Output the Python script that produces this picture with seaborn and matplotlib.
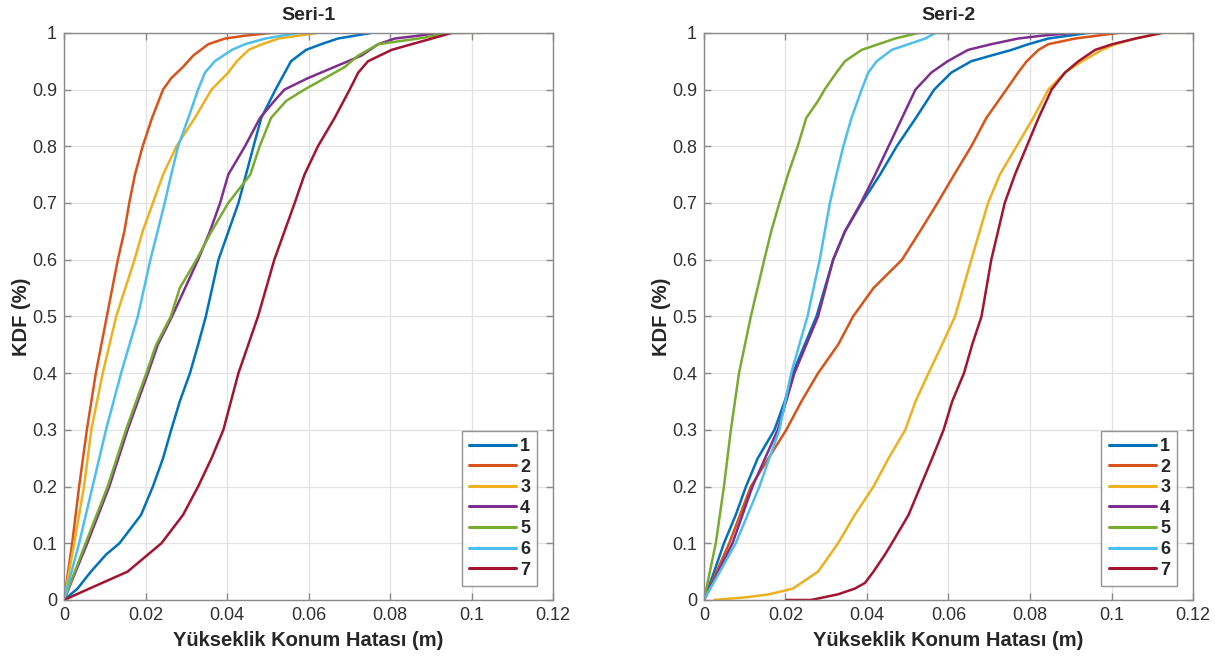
import matplotlib
matplotlib.use("Agg")
import matplotlib.pyplot as plt
import seaborn as sns
import pandas as pd
from matplotlib.ticker import FuncFormatter

# ---- data (x = error in m, read at CDF levels) ----
series_names = ["1", "2", "3", "4", "5", "6", "7"]
colors = ["#0072BD", "#D95319", "#EDB120", "#7E2F8E", "#77AC30", "#4DBEEE", "#A2142F"]

# Seri-1
s1_c1_x = [0, 0.0033, 0.0066, 0.0103, 0.0136, 0.0189, 0.0218, 0.0243, 0.0263, 0.0284, 0.0309, 0.0329, 0.0348, 0.0379, 0.0428, 0.0465, 0.0484, 0.0519, 0.0557, 0.0594, 0.0631, 0.0672, 0.0755]
s1_c1_y = [0, 0.02, 0.05, 0.08, 0.10, 0.15, 0.20, 0.25, 0.30, 0.35, 0.40, 0.45, 0.50, 0.60, 0.70, 0.80, 0.85, 0.90, 0.95, 0.97, 0.98, 0.99, 1.0]
s1_c2_x = [0, 0.002, 0.0037, 0.0056, 0.0078, 0.0105, 0.0132, 0.0148, 0.016, 0.0174, 0.0193, 0.0216, 0.0243, 0.0263, 0.0292, 0.0317, 0.0354, 0.0395, 0.0444, 0.051, 0.0535]
s1_c2_y = [0, 0.10, 0.20, 0.30, 0.40, 0.50, 0.60, 0.65, 0.70, 0.75, 0.80, 0.85, 0.90, 0.92, 0.94, 0.96, 0.98, 0.99, 0.995, 1.0, 1.0]
s1_c3_x = [0, 0.0025, 0.0049, 0.0067, 0.0095, 0.0128, 0.0173, 0.0193, 0.0218, 0.0243, 0.0276, 0.0321, 0.0362, 0.0403, 0.0424, 0.0453, 0.0486, 0.0527, 0.0623]
s1_c3_y = [0, 0.10, 0.20, 0.30, 0.40, 0.50, 0.60, 0.65, 0.70, 0.75, 0.80, 0.85, 0.90, 0.93, 0.95, 0.97, 0.98, 0.99, 1.0]
s1_c4_x = [0, 0.0057, 0.0111, 0.0156, 0.0206, 0.023, 0.0265, 0.0329, 0.0358, 0.0383, 0.0403, 0.0444, 0.0481, 0.0516, 0.0541, 0.0598, 0.0664, 0.073, 0.0771, 0.0812, 0.087, 0.092]
s1_c4_y = [0, 0.10, 0.20, 0.30, 0.40, 0.45, 0.50, 0.60, 0.65, 0.70, 0.75, 0.80, 0.85, 0.88, 0.90, 0.92, 0.94, 0.96, 0.98, 0.99, 0.995, 1.0]
s1_c5_x = [0, 0.0053, 0.0107, 0.0152, 0.0202, 0.0226, 0.0262, 0.0284, 0.0325, 0.0362, 0.0403, 0.0457, 0.0480, 0.0508, 0.0545, 0.059, 0.064, 0.0689, 0.0722, 0.0771, 0.082, 0.087, 0.0952, 0.1026]
s1_c5_y = [0, 0.10, 0.20, 0.30, 0.40, 0.45, 0.50, 0.55, 0.60, 0.65, 0.70, 0.75, 0.80, 0.85, 0.88, 0.90, 0.92, 0.94, 0.96, 0.98, 0.985, 0.99, 1.0, 1.0]
s1_c6_x = [0, 0.0037, 0.007, 0.0103, 0.014, 0.0181, 0.0212, 0.0247, 0.0263, 0.028, 0.0305, 0.0329, 0.0346, 0.037, 0.0412, 0.0444, 0.0494, 0.0576, 0.0597]
s1_c6_y = [0, 0.10, 0.20, 0.30, 0.40, 0.50, 0.60, 0.70, 0.75, 0.80, 0.85, 0.90, 0.93, 0.95, 0.97, 0.98, 0.99, 1.0, 1.0]
s1_c7_x = [0, 0.0062, 0.0156, 0.0239, 0.0292, 0.0329, 0.0362, 0.0391, 0.0428, 0.0476, 0.0516, 0.0566, 0.059, 0.0623, 0.0664, 0.0701, 0.0722, 0.0746, 0.0804, 0.0853, 0.0903, 0.0952, 0.0985]
s1_c7_y = [0, 0.02, 0.05, 0.10, 0.15, 0.20, 0.25, 0.30, 0.40, 0.50, 0.60, 0.70, 0.75, 0.80, 0.85, 0.90, 0.93, 0.95, 0.97, 0.98, 0.99, 1.0, 1.0]

# Seri-2
s2_c1_x = [0, 0.0025, 0.0049, 0.0078, 0.0103, 0.0132, 0.0173, 0.0198, 0.0218, 0.0247, 0.0276, 0.0317, 0.0346, 0.0387, 0.0432, 0.0473, 0.052, 0.0565, 0.0607, 0.0656, 0.0705, 0.0755, 0.0796, 0.0845, 0.0944]
s2_c1_y = [0, 0.05, 0.10, 0.15, 0.20, 0.25, 0.30, 0.35, 0.40, 0.45, 0.50, 0.60, 0.65, 0.70, 0.75, 0.80, 0.85, 0.90, 0.93, 0.95, 0.96, 0.97, 0.98, 0.99, 1.0]
s2_c2_x = [0, 0.0062, 0.0115, 0.0202, 0.0239, 0.028, 0.0329, 0.0366, 0.0416, 0.0486, 0.053, 0.0573, 0.0614, 0.0656, 0.0693, 0.0742, 0.0771, 0.0792, 0.0821, 0.0845, 0.0911, 0.1018]
s2_c2_y = [0, 0.10, 0.20, 0.30, 0.35, 0.40, 0.45, 0.50, 0.55, 0.60, 0.65, 0.70, 0.75, 0.80, 0.85, 0.90, 0.93, 0.95, 0.97, 0.98, 0.99, 1.0]
s2_c3_x = [0.0025, 0.0107, 0.016, 0.0218, 0.028, 0.0329, 0.037, 0.0416, 0.0453, 0.0494, 0.0519, 0.0551, 0.0584, 0.0616, 0.0656, 0.0697, 0.0726, 0.0767, 0.0808, 0.0845, 0.0886, 0.0928, 0.0977, 0.101, 0.1059, 0.1125, 0.117]
s2_c3_y = [0, 0.005, 0.01, 0.02, 0.05, 0.10, 0.15, 0.20, 0.25, 0.30, 0.35, 0.40, 0.45, 0.50, 0.60, 0.70, 0.75, 0.80, 0.85, 0.90, 0.93, 0.95, 0.97, 0.98, 0.99, 1.0, 1.0]
s2_c4_x = [0, 0.007, 0.0119, 0.0181, 0.0222, 0.0251, 0.028, 0.0317, 0.0346, 0.0385, 0.042, 0.0453, 0.0486, 0.0519, 0.0558, 0.0598, 0.0648, 0.0705, 0.0771, 0.0829, 0.0911]
s2_c4_y = [0, 0.10, 0.20, 0.30, 0.40, 0.45, 0.50, 0.60, 0.65, 0.70, 0.75, 0.80, 0.85, 0.90, 0.93, 0.95, 0.97, 0.98, 0.99, 0.995, 1.0]
s2_c5_x = [0, 0.0029, 0.0049, 0.0066, 0.0086, 0.0115, 0.0148, 0.0165, 0.0185, 0.0206, 0.023, 0.0251, 0.028, 0.0296, 0.0325, 0.0346, 0.0387, 0.0428, 0.0469, 0.0527, 0.0605]
s2_c5_y = [0, 0.10, 0.20, 0.30, 0.40, 0.50, 0.60, 0.65, 0.70, 0.75, 0.80, 0.85, 0.88, 0.90, 0.93, 0.95, 0.97, 0.98, 0.99, 1.0, 1.0]
s2_c6_x = [0, 0.0078, 0.0136, 0.0185, 0.0214, 0.0254, 0.0284, 0.0309, 0.0325, 0.0342, 0.0362, 0.0387, 0.0403, 0.0424, 0.0461, 0.0502, 0.0543, 0.0568]
s2_c6_y = [0, 0.10, 0.20, 0.30, 0.40, 0.50, 0.60, 0.70, 0.75, 0.80, 0.85, 0.90, 0.93, 0.95, 0.97, 0.98, 0.99, 1.0]
s2_c7_x = [0.0202, 0.0263, 0.0296, 0.0329, 0.037, 0.0395, 0.0416, 0.0444, 0.0461, 0.0502, 0.0531, 0.056, 0.0588, 0.0609, 0.0638, 0.0658, 0.0681, 0.0705, 0.0738, 0.0763, 0.0792, 0.0821, 0.0853, 0.0886, 0.0919, 0.096, 0.1002, 0.1059, 0.1125]
s2_c7_y = [0, 0, 0.005, 0.01, 0.02, 0.03, 0.05, 0.08, 0.10, 0.15, 0.20, 0.25, 0.30, 0.35, 0.40, 0.45, 0.50, 0.60, 0.70, 0.75, 0.80, 0.85, 0.90, 0.93, 0.95, 0.97, 0.98, 0.99, 1.0]

panel_titles = ["Seri-1", "Seri-2"]
x_ticks = [0, 0.02, 0.04, 0.06, 0.08, 0.1, 0.12]
y_ticks = [0, 0.1, 0.2, 0.3, 0.4, 0.5, 0.6, 0.7, 0.8, 0.9, 1.0]
x_label = "Yükseklik Konum Hatası (m)"
y_label = "KDF (%)"

panels = [
    [(s1_c1_x, s1_c1_y), (s1_c2_x, s1_c2_y), (s1_c3_x, s1_c3_y), (s1_c4_x, s1_c4_y),
     (s1_c5_x, s1_c5_y), (s1_c6_x, s1_c6_y), (s1_c7_x, s1_c7_y)],
    [(s2_c1_x, s2_c1_y), (s2_c2_x, s2_c2_y), (s2_c3_x, s2_c3_y), (s2_c4_x, s2_c4_y),
     (s2_c5_x, s2_c5_y), (s2_c6_x, s2_c6_y), (s2_c7_x, s2_c7_y)],
]

sns.set_style("white")
plt.rcParams["font.family"] = ["Liberation Sans", "DejaVu Sans"]

fig = plt.figure(figsize=(12.15, 6.57), dpi=100)
ax_pos = [[0.0527, 0.0868, 0.4025, 0.8632], [0.5794, 0.0868, 0.4025, 0.8632]]

fmt = FuncFormatter(lambda v, p: "%g" % round(v, 4))

for pi, curves in enumerate(panels):
    ax = fig.add_axes(ax_pos[pi])
    rows = []
    for name, (xs, ys) in zip(series_names, curves):
        for i, (xv, yv) in enumerate(zip(xs, ys)):
            rows.append({"x": xv, "y": yv, "series": name, "order": i})
    df = pd.DataFrame(rows)
    sns.lineplot(data=df, x="x", y="y", hue="series", palette=colors,
                 hue_order=series_names, sort=False, estimator=None,
                 units="series", lw=1.8, ax=ax, legend=False)
    ax.set_xlim(0, 0.12)
    ax.set_ylim(0, 1)
    ax.set_xticks(x_ticks)
    ax.set_yticks(y_ticks)
    ax.xaxis.set_major_formatter(fmt)
    ax.yaxis.set_major_formatter(fmt)
    ax.grid(True, color="#e3e3e3", lw=0.9)
    ax.set_axisbelow(True)
    for sp in ax.spines.values():
        sp.set_visible(True)
        sp.set_color("#8a8a8a")
        sp.set_linewidth(1.0)
    ax.tick_params(direction="in", length=5, width=1.0, color="#8a8a8a",
                   labelsize=13, labelcolor="#303030", top=True, right=True,
                   bottom=True, left=True, pad=5)
    ax.set_title(panel_titles[pi], fontsize=14, fontweight="bold", pad=9)
    ax.set_xlabel(x_label, fontsize=14.5, fontweight="bold", labelpad=5)
    ax.set_ylabel(y_label, fontsize=14.5, fontweight="bold", labelpad=1)
    handles = [plt.Line2D([], [], color=c, lw=2.2) for c in colors]
    leg = ax.legend(handles, series_names, loc="lower right",
                    bbox_to_anchor=(0.968, 0.025), frameon=True, fancybox=False,
                    prop={"weight": "bold", "size": 13}, handlelength=2.6,
                    handletextpad=0.25, labelspacing=0.2, borderpad=0.4,
                    borderaxespad=0.0)
    leg.get_frame().set_edgecolor("#7a7a7a")
    leg.get_frame().set_linewidth(1.0)

fig.savefig("out.png", dpi=100)
